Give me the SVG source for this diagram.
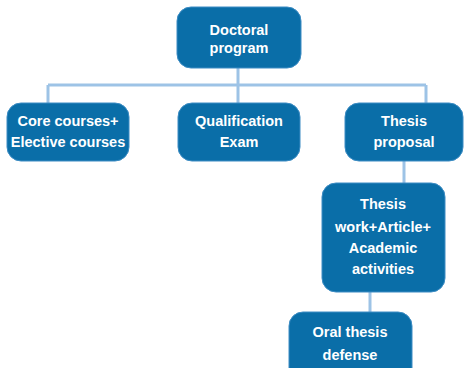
<svg xmlns="http://www.w3.org/2000/svg" width="465" height="368" viewBox="0 0 465 368">
<style>
.box{fill:#0A6EA8;stroke:#3C8CC4;stroke-width:1}
.t{fill:#FFFFFF;font-family:"Liberation Sans",Arial,sans-serif;font-weight:bold;font-size:14.5px;text-anchor:middle}
.c{fill:none;stroke:#9DC3E6;stroke-width:3}
</style>
<rect width="465" height="368" fill="#FFFFFF"/>
<g id="connectors">
<path class="c" d="M238 68 V85 M48 85 H426 M48 85 V103 M238 85 V103 M426 85 V103 M404 161 V183 M370 292 V312"/>
</g>
<g id="doctoral">
<rect class="box" x="177" y="7" width="124" height="61" rx="14"/>
<text class="t" x="239" y="35">Doctoral</text>
<text class="t" x="239" y="53">program</text>
</g>
<g id="core">
<rect class="box" x="7" y="103" width="122" height="58" rx="14"/>
<text class="t" x="68" y="126">Core courses+</text>
<text class="t" x="68" y="147">Elective courses</text>
</g>
<g id="qualification">
<rect class="box" x="178" y="103" width="122" height="58" rx="14"/>
<text class="t" x="239" y="126">Qualification</text>
<text class="t" x="239" y="147">Exam</text>
</g>
<g id="proposal">
<rect class="box" x="345" y="103" width="118" height="58" rx="14"/>
<text class="t" x="404" y="126">Thesis</text>
<text class="t" x="404" y="147">proposal</text>
</g>
<g id="thesiswork">
<rect class="box" x="322" y="183" width="123" height="109" rx="14"/>
<text class="t" x="383" y="209">Thesis</text>
<text class="t" x="383" y="232">work+Article+</text>
<text class="t" x="383" y="253">Academic</text>
<text class="t" x="383" y="274">activities</text>
</g>
<g id="oral">
<rect class="box" x="289" y="312" width="123" height="70" rx="14"/>
<text class="t" x="350" y="337">Oral thesis</text>
<text class="t" x="350" y="360">defense</text>
</g>
</svg>
